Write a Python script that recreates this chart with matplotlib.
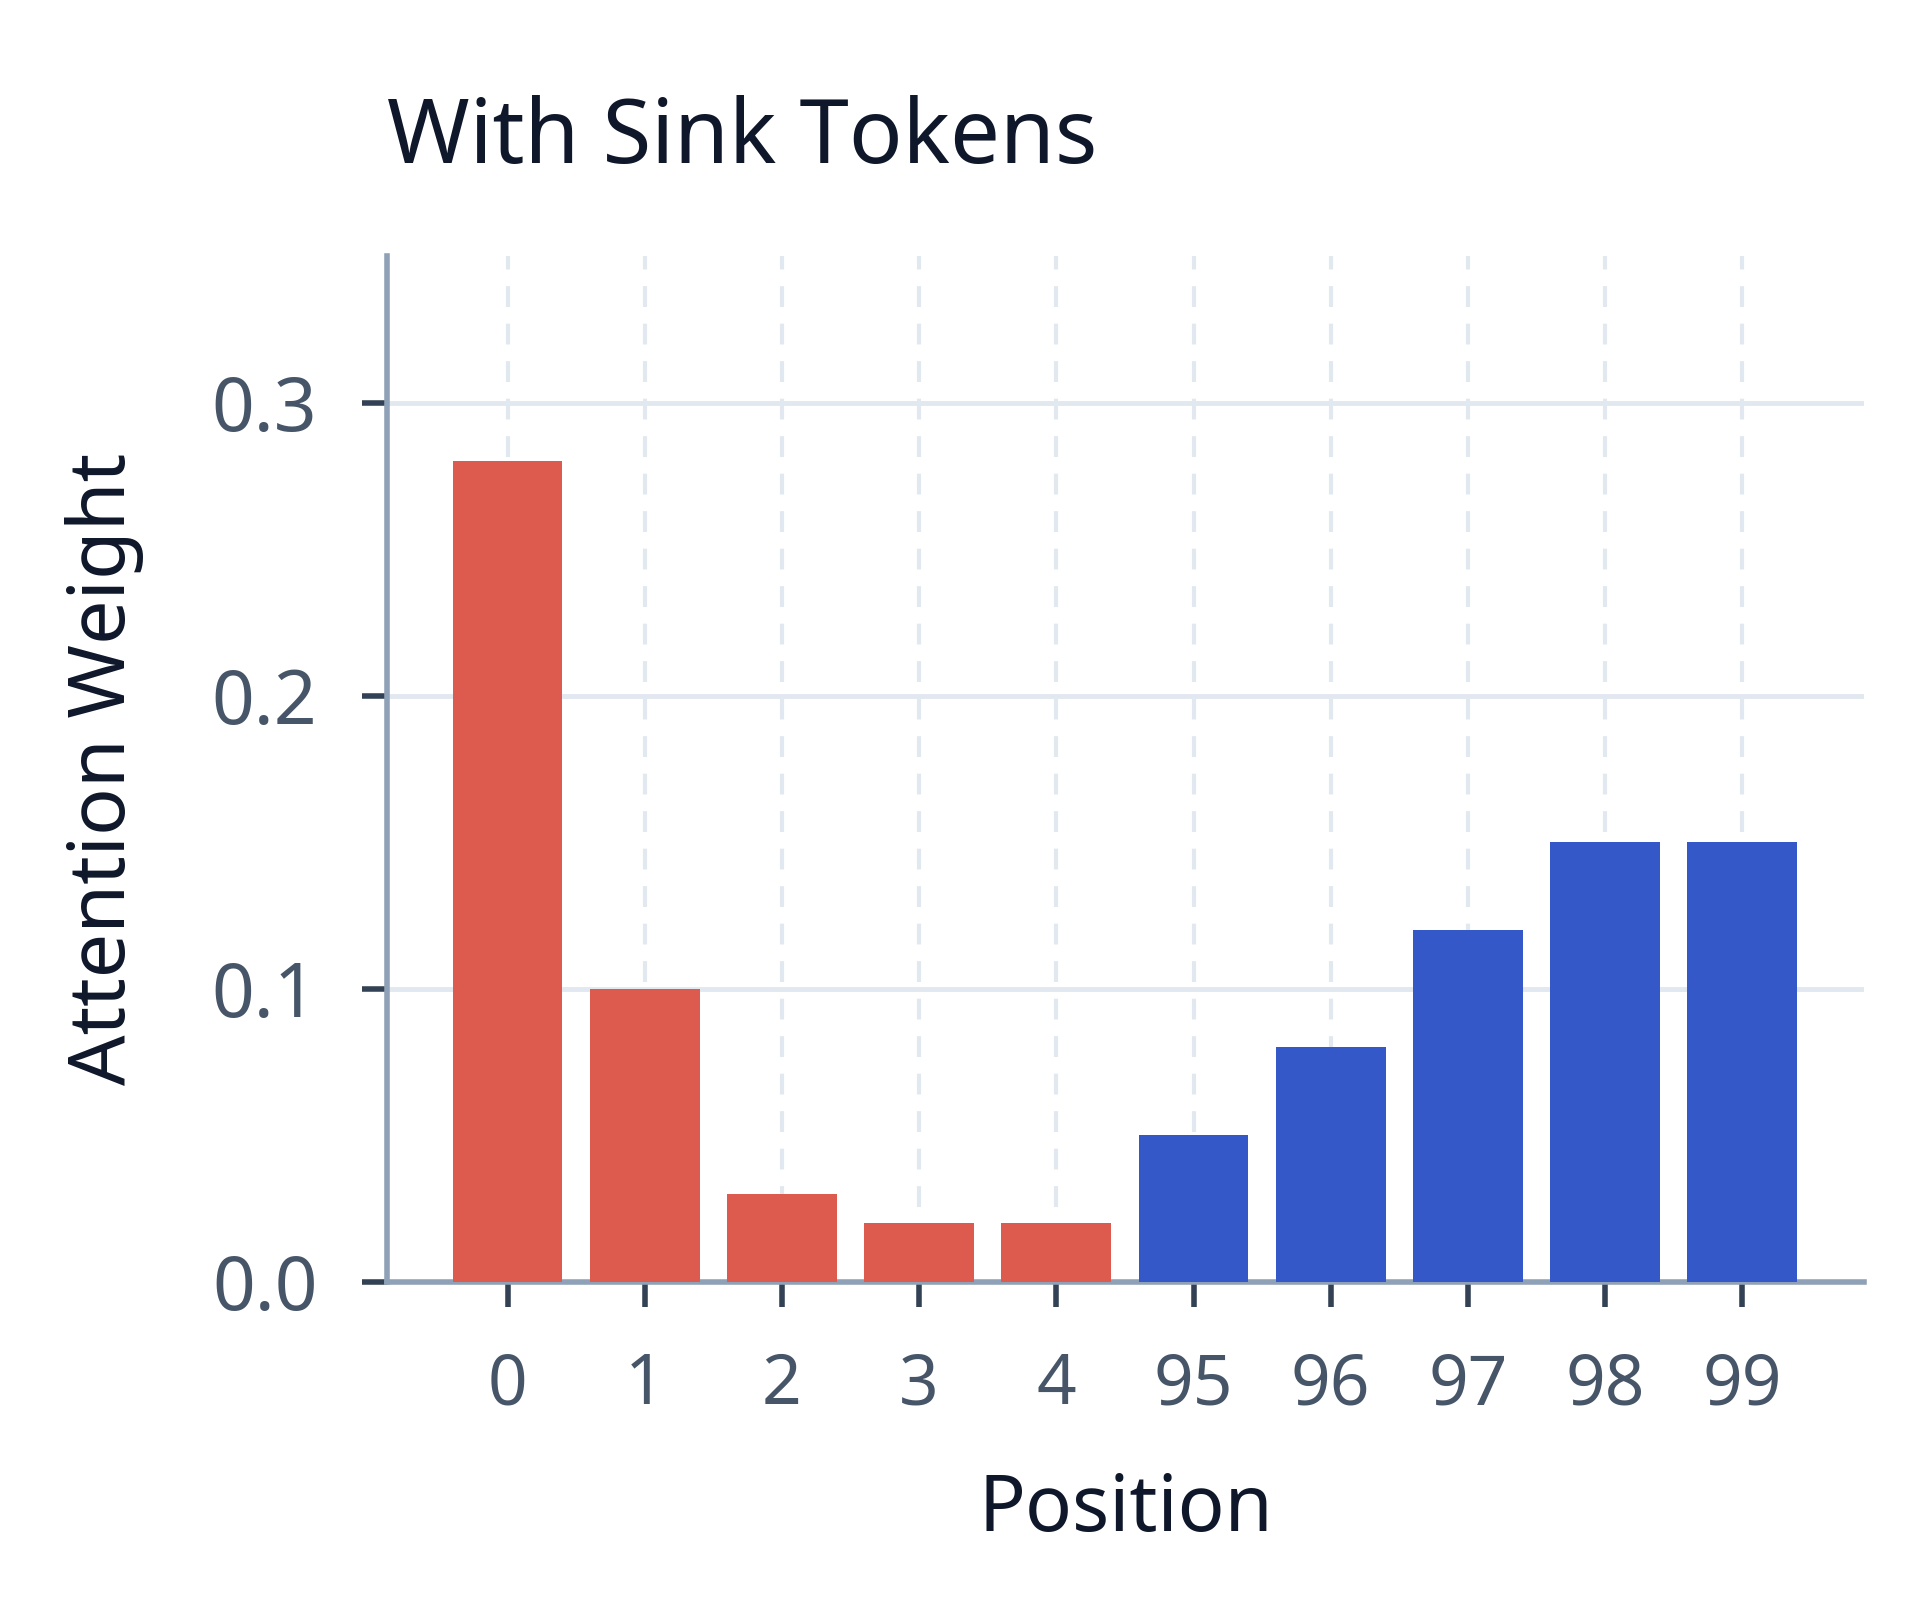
import matplotlib
matplotlib.use("Agg")
import matplotlib.pyplot as plt

# -- Data ----------------------------------------------------------------------
positions = ["0", "1", "2", "3", "4", "95", "96", "97", "98", "99"]
weights = [0.28, 0.10, 0.03, 0.02, 0.02, 0.05, 0.08, 0.12, 0.15, 0.15]
groups = ["sink", "sink", "sink", "sink", "sink",
          "recent", "recent", "recent", "recent", "recent"]
y_ticks = [0.0, 0.1, 0.2, 0.3]

colors = {"sink": "#dc5a4e", "recent": "#3458c7"}

plt.rcParams["font.family"] = ["Noto Sans", "DejaVu Sans"]

fig = plt.figure(figsize=(19.2, 16), dpi=100)
ax = fig.add_axes([0.2015, 0.199, 0.7695, 0.641])

xs = list(range(len(positions)))
ax.bar(xs, weights, width=0.8, color=[colors[g] for g in groups], zorder=3)

ax.set_xlim(-0.88, 9.89)
ax.set_ylim(0, 0.35)
ax.set_xticks(xs)
ax.set_xticklabels(positions)
ax.set_yticks(y_ticks)
ax.set_yticklabels([f"{v:.1f}" for v in y_ticks])

# grid: solid horizontal, dashed vertical
ax.grid(axis="y", color="#e2e8f0", linewidth=3.5, zorder=0)
ax.grid(axis="x", color="#e2e8f0", linewidth=3, linestyle=(0, (5, 4)), zorder=0)

for side in ["top", "right"]:
    ax.spines[side].set_visible(False)
for side in ["left", "bottom"]:
    ax.spines[side].set_color("#8fa1b6")
    ax.spines[side].set_linewidth(4)

ax.tick_params(axis="both", direction="out", length=18, width=4,
               color="#334155", labelcolor="#475569", pad=32)
ax.tick_params(axis="y", labelsize=54)
ax.tick_params(axis="x", labelsize=50)

ax.set_xlabel("Position", fontsize=56, color="#0f172a", labelpad=36)
ax.set_ylabel("Attention Weight", fontsize=57, color="#0f172a", labelpad=49)
ax.set_title("With Sink Tokens", loc="left", fontsize=64, color="#0f172a", pad=67)

fig.savefig("out.png", dpi=100, facecolor="white")
